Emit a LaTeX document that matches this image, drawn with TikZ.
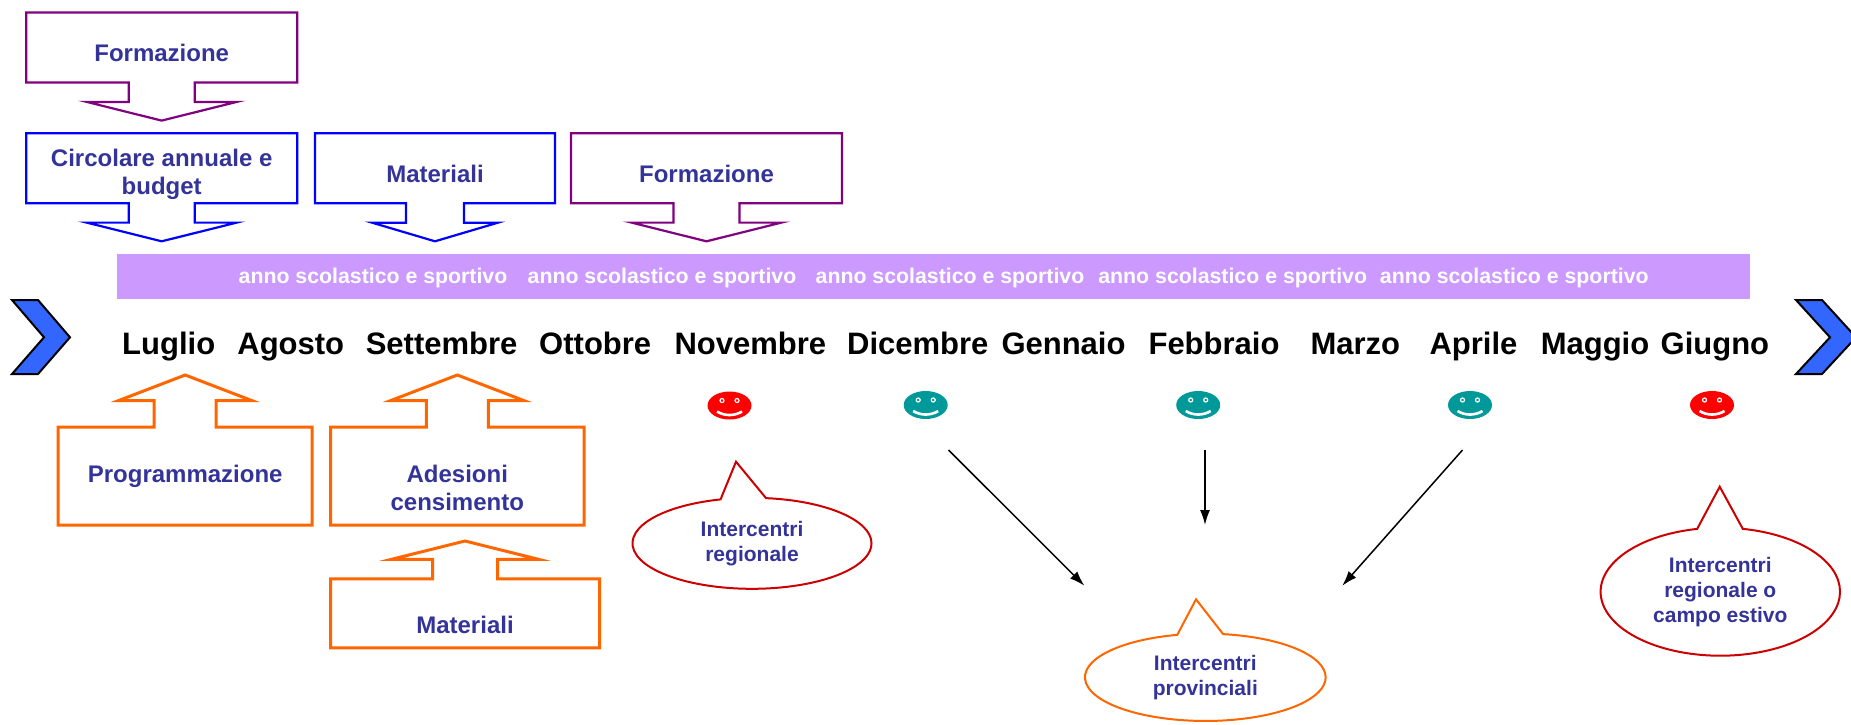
\documentclass[tikz,border=0pt]{standalone}
\usepackage{fontspec}
\setmainfont{Liberation Sans}
\usepackage{xcolor}
\usetikzlibrary{shapes.arrows,shapes.callouts,arrows.meta}
\definecolor{viola}{RGB}{128,0,128}
\definecolor{blu}{RGB}{0,0,255}
\definecolor{arancio}{RGB}{255,102,0}
\definecolor{lilla}{RGB}{204,153,255}
\definecolor{bluscuro}{RGB}{51,51,153}
\definecolor{rosso}{RGB}{204,0,0}
\definecolor{verdeacqua}{RGB}{0,153,153}
\definecolor{azzurro}{RGB}{51,102,255}

\begin{document}
\begin{tikzpicture}[x=1pt,y=-1pt,
  testo/.style={text=bluscuro,font=\bfseries\fontsize{24}{28}\selectfont,align=center},
  mese/.style={anchor=base,font=\bfseries\fontsize{31}{36}\selectfont},
  anno/.style={anchor=base,text=white,font=\bfseries\fontsize{21.3}{25}\selectfont},
  giu/.style={arrow box,draw=#1,line width=2.2pt,minimum width=271pt,minimum height=70pt,inner sep=0pt,
    arrow box arrows={south:37pt},arrow box shaft width=66pt,arrow box head extend=42pt,arrow box tip angle=152},
  su/.style={arrow box,draw=arancio,line width=3pt,minimum width=254pt,minimum height=98pt,inner sep=0pt,
    arrow box arrows={north:50.7pt},arrow box shaft width=62pt,arrow box head extend=35.5pt,arrow box tip angle=138},
  nuvola/.style={ellipse callout,draw=#1,line width=2pt,callout pointer arc=22,inner sep=0pt,
    text=bluscuro,font=\bfseries\fontsize{21}{25}\selectfont,align=center},
  freccia/.style={-{Latex[length=15pt,width=10pt]},line width=1.5pt},
  pics/faccina/.style={code={
    \fill[#1] (0,0) ellipse [x radius=22,y radius=14];
    \draw[white,line width=1.2pt,fill=#1] (-7.5,-5) circle [radius=2] (7.5,-5) circle [radius=2];
    \draw[white,line width=2.6pt] (-12.5,6) .. controls (-5,10.7) and (5,10.7) .. (12.5,6);
  }}
]
\useasboundingbox (0,0) rectangle (1851,724);
\clip (0,0) rectangle (1851,724);

\node[giu=viola,label={[testo,yshift=-5.5pt]center:Formazione}] (form1) at (161.7,47.5) {};
\node[giu=blu,label={[testo,yshift=-6.6pt]center:{Circolare annuale e\\budget}}] (circ) at (161.7,168.2) {};
\node[giu=blu,minimum width=240pt,arrow box shaft width=58pt,arrow box head extend=33.5pt,arrow box tip angle=147,
  label={[testo,yshift=-6pt]center:Materiali}] (mat1) at (435,168.2) {};
\node[giu=viola,label={[testo,yshift=-6pt]center:Formazione}] (form2) at (706.5,168.2) {};

\fill[lilla] (117,254) rectangle (1750,298.5);
\node[anno] (a1) at (373,283) {anno scolastico e sportivo};
\node[anno] (a2) at (662,283) {anno scolastico e sportivo};
\node[anno] (a3) at (950,283) {anno scolastico e sportivo};
\node[anno] (a4) at (1232.7,283) {anno scolastico e sportivo};
\node[anno] (a5) at (1514.3,283) {anno scolastico e sportivo};

\filldraw[fill=azzurro,draw=black,line width=2pt] (12,300) -- (38,300) -- (70,337.3) -- (38,374) -- (12,374) -- (44,337.3) -- cycle;
\filldraw[fill=azzurro,draw=black,line width=2pt] (1796,300) -- (1822,300) -- (1856,337.3) -- (1822,374) -- (1796,374) -- (1830,337.3) -- cycle;

\node[mese] (lug) at (168.7,354.5) {Luglio};
\node[mese] (ago) at (290.8,354.5) {Agosto};
\node[mese] (set) at (441.6,354.5) {Settembre};
\node[mese] (ott) at (595.2,354.5) {Ottobre};
\node[mese] (nov) at (750.4,354.5) {Novembre};
\node[mese] (dic) at (917.8,354.5) {Dicembre};
\node[mese] (gen) at (1063.5,354.5) {Gennaio};
\node[mese] (feb) at (1214,354.5) {Febbraio};
\node[mese] (mar) at (1355.3,354.5) {Marzo};
\node[mese] (apr) at (1473.5,354.5) {Aprile};
\node[mese] (mag) at (1595,354.5) {Maggio};
\node[mese] (giu) at (1714.9,354.5) {Giugno};

\pic at (729.5,405.5) {faccina=red};
\pic at (925.7,405) {faccina=verdeacqua};
\pic at (1198.2,405) {faccina=verdeacqua};
\pic at (1470,405) {faccina=verdeacqua};
\pic at (1712,405) {faccina=red};

\node[su,label={[testo]center:Programmazione}] (prog) at (185.2,476.2) {};
\node[su,minimum width=253.5pt,label={[testo,yshift=-12pt]center:{Adesioni\\censimento}}] (ades) at (457.3,476.2) {};
\node[su,minimum width=269pt,minimum height=69pt,arrow box arrows={north:36.3pt},arrow box shaft width=65pt,
  arrow box head extend=40.8pt,arrow box tip angle=152,label={[testo,yshift=-11.7pt]center:Materiali}] (mat2) at (465,613.3) {};

\node[nuvola=rosso,minimum width=239pt,minimum height=91pt,callout absolute pointer={(736,461.7)}] (reg) at (752,543.3) {Intercentri\\regionale};
\node[nuvola=arancio,minimum width=240.7pt,minimum height=87.3pt,callout absolute pointer={(1196,599.3)}] (prov) at (1205.3,677.3) {Intercentri\\provinciali};
\node[nuvola=rosso,minimum width=239.4pt,minimum height=128pt,callout absolute pointer={(1719.7,486.7)}] (camp) at (1720.3,591.7) {Intercentri\\regionale o\\campo estivo};

\coordinate (d1) at (948.5,450);
\coordinate (d2) at (1205,450);
\coordinate (d3) at (1462.5,450);
\coordinate (p1) at (1084.4,585.7);
\coordinate (p2) at (1205,525);
\coordinate (p3) at (1342.3,585.7);
\draw[freccia] (d1) -- (p1);
\draw[freccia] (d2) -- (p2);
\draw[freccia] (d3) -- (p3);
\end{tikzpicture}
\end{document}
